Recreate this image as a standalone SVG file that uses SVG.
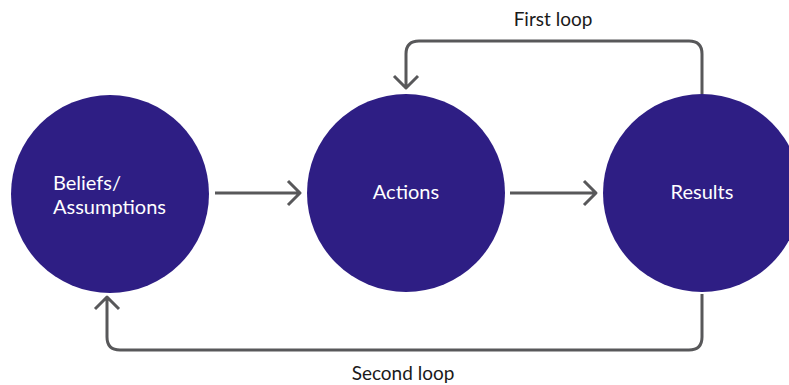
<svg xmlns="http://www.w3.org/2000/svg" width="789" height="385" viewBox="0 0 789 385">
<style>
.node{fill:#2e1e84}
.lbl{font-family:Lato,"Open Sans",sans-serif;font-size:20px;fill:#ffffff}
.cap{font-family:Lato,"Open Sans",sans-serif;font-size:19px;fill:#1a1a1a;text-anchor:middle}
.edge{fill:none;stroke:#58585a;stroke-width:3;stroke-linejoin:round}
</style>
<rect width="789" height="385" fill="#ffffff"/>
<g id="beliefs">
<circle class="node" cx="110" cy="194" r="99"/>
<text class="lbl" x="53" y="190">Beliefs/</text>
<text class="lbl" x="53" y="214">Assumptions</text>
</g>
<g id="actions">
<circle class="node" cx="406" cy="193" r="99"/>
<text class="lbl" x="406" y="199" text-anchor="middle">Actions</text>
</g>
<g id="results">
<circle class="node" cx="702" cy="193" r="99"/>
<text class="lbl" x="702" y="199" text-anchor="middle">Results</text>
</g>
<g id="connectors">
<path class="edge" d="M215 193 H298 M288 181 L300 193 L288 205"/>
<path class="edge" d="M510 193 H594 M584 181 L596 193 L584 205"/>
<path class="edge" d="M702 94 V54 Q702 41 689 41 H419 Q406 41 406 54 V87 M394 76 L406 88 L418 76"/>
<path class="edge" d="M702 294 V337 Q702 350 689 350 H120 Q107 350 107 337 V298 M95 309 L107 297 L119 309"/>
<text class="cap" x="553" y="26">First loop</text>
<text class="cap" x="403" y="380">Second loop</text>
</g>
</svg>
